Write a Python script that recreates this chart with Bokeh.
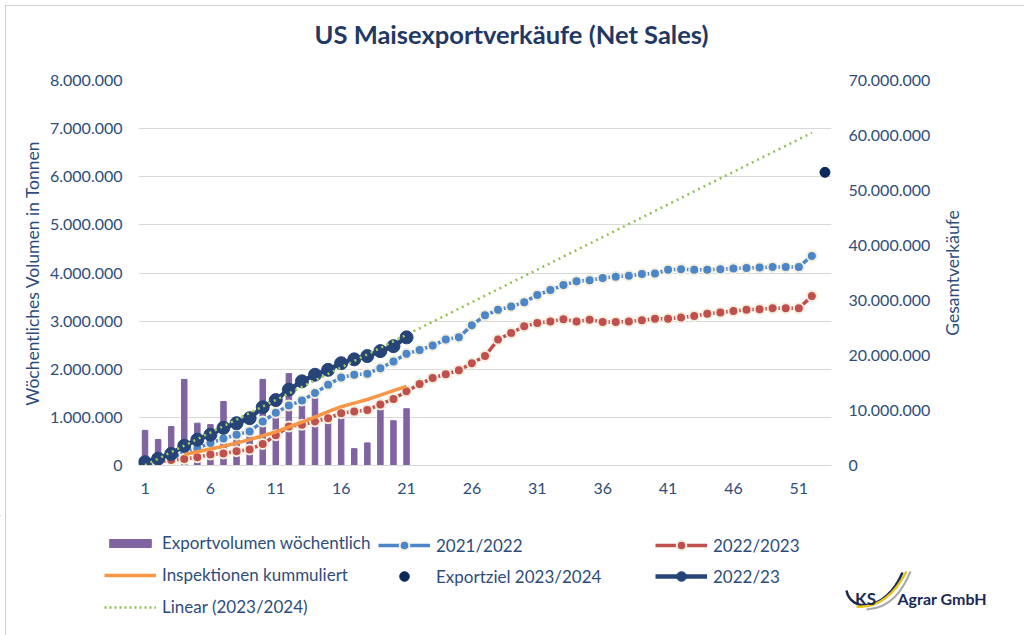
import math
import numpy as np
from bokeh.plotting import figure
from bokeh.layouts import row
from bokeh.models import (Range1d, LinearAxis, FixedTicker, CustomJSTickFormatter,
                          Legend, LegendItem, Label, Div)
from bokeh.embed import file_html
from bokeh.resources import INLINE

# ---------------- data ----------------
weeks_current = list(range(1, 22))
weekly_export = [730000, 540000, 810000, 1790000, 880000, 850000, 1330000, 920000, 800000,
                 1790000, 1080000, 1910000, 1250000, 1400000, 880000, 1220000, 350000,
                 470000, 1160000, 930000, 1180000]
sales_2022_23_current = [600000, 1250000, 2100000, 3600000, 4700000, 5600000, 6850000, 7700000,
                         8600000, 10600000, 11900000, 13800000, 15300000, 16500000, 17400000,
                         18600000, 19300000, 19900000, 20800000, 21700000, 23300000]
weeks_inspections = list(range(4, 22))
inspections_cum = [2000000, 2500000, 3000000, 3500000, 4100000, 4700000, 5400000, 6100000,
                   7000000, 7900000, 8800000, 9800000, 10700000, 11350000, 12000000,
                   12800000, 13600000, 14400000]
weeks_full = list(range(1, 53))
sales_2021_2022 = [200000, 500000, 1300000, 2400000, 3100000, 4100000, 4900000, 5600000,
                   6200000, 8000000, 9600000, 10900000, 11800000, 13200000, 14700000,
                   16000000, 16500000, 16700000, 17700000, 18900000, 20300000, 21000000,
                   21800000, 22900000, 23300000, 25500000, 27300000, 28300000, 28900000,
                   29700000, 31000000, 31900000, 32800000, 33500000, 33700000, 34100000,
                   34300000, 34500000, 34800000, 34900000, 35600000, 35700000, 35600000,
                   35600000, 35700000, 35800000, 35900000, 36000000, 36100000, 36100000,
                   36100000, 38100000]
sales_2022_2023 = [600000, 700000, 1000000, 1200000, 1500000, 2000000, 2200000, 2600000,
                   2900000, 3900000, 5500000, 7100000, 7400000, 8000000, 8600000, 9500000,
                   9800000, 10100000, 11100000, 12100000, 13500000, 14800000, 15900000,
                   16600000, 17300000, 18600000, 19900000, 22900000, 24100000, 25300000,
                   25900000, 26200000, 26600000, 26200000, 26500000, 26100000, 26100000,
                   26200000, 26400000, 26700000, 26700000, 26900000, 27200000, 27600000,
                   27800000, 28100000, 28300000, 28400000, 28600000, 28600000, 28600000,
                   30800000]
target_week = [53]
export_target = [53300000]
left_ticks = [0, 1000000, 2000000, 3000000, 4000000, 5000000, 6000000, 7000000, 8000000]
right_ticks = [0, 10000000, 20000000, 30000000, 40000000, 50000000, 60000000, 70000000]
x_ticks = [1, 6, 11, 16, 21, 26, 31, 36, 41, 46, 51]

# linear trendline of the current season (Excel "Linear" trendline)
coef = np.polyfit(weeks_current, sales_2022_23_current, 1)
trend_weeks = np.array(weeks_full)
trend_vals = np.polyval(coef, trend_weeks)

# ---------------- style ----------------
W, H = 1024, 635
HT = 60                       # title strip
HL = 120                      # legend strip
HM = H - HT - HL              # main figure
WR = 89                       # right strip holding the right axis title
WM = W - WR
FL, FR, FT, FB = 138, 831, 80, 465   # frame in page pixels
FONT = "Lato"
TXT = "#2E4D7B"
GRID = "#D9D9D9"
C_BAR = "#8064A2"
C_BLUE = "#4A86C8"
C_RED = "#C0504D"
C_ORANGE = "#F79646"
C_NAVY = "#264478"
C_TARGET = "#0B2A5B"
C_TREND = "#92C050"
C_HALO = "#F3EEDC"
C_LOGO = "#1B2A55"


def strip(width, height, xr, yr, **borders):
    f = figure(width=width, height=height, x_range=xr, y_range=yr, output_backend="svg",
               toolbar_location=None, x_axis_type=None, y_axis_type=None, **borders)
    f.outline_line_color = None
    f.grid.grid_line_color = None
    f.background_fill_color = "white"
    f.border_fill_color = "white"
    return f


# ---------------- title strip ----------------
tf = strip(W, HT, Range1d(0, W), Range1d(HT, 0), min_border=0)
tf.add_layout(Label(x=511, y=33, text="US Maisexportverkäufe (Net Sales)",
                    text_align="center", text_baseline="middle", text_font=FONT,
                    text_font_size="25.5px", text_font_style="bold", text_color="#1F3864"))

# ---------------- main figure ----------------
p = figure(width=WM, height=HM, x_range=Range1d(0.5, 53.5), y_range=Range1d(0, 8000000),
           output_backend="svg", toolbar_location=None,
           min_border_left=FL, min_border_right=WM - FR, min_border_top=FT - HT,
           min_border_bottom=HM - (FB - HT))
p.outline_line_color = None
p.background_fill_color = "white"
p.border_fill_color = "white"

p.extra_y_ranges = {"tot": Range1d(0, 70000000)}

fmt = CustomJSTickFormatter(code="return Math.round(tick).toString().replace(/\\B(?=(\\d{3})+(?!\\d))/g, '.');")

ya = p.yaxis[0]
ya.ticker = FixedTicker(ticks=left_ticks)
ya.formatter = fmt
ya.axis_line_color = None
ya.major_tick_line_color = None
ya.minor_tick_line_color = None
ya.major_tick_out = 0
ya.minor_tick_out = 0
ya.major_label_standoff = 16
ya.major_label_text_font = FONT
ya.major_label_text_font_size = "16px"
ya.major_label_text_color = TXT
ya.axis_label = "Wöchentliches Volumen in Tonnen"
ya.axis_label_text_font = FONT
ya.axis_label_text_font_size = "17.5px"
ya.axis_label_text_font_style = "normal"
ya.axis_label_text_color = TXT
ya.axis_label_standoff = 4

ra = LinearAxis(y_range_name="tot", ticker=FixedTicker(ticks=right_ticks), formatter=fmt)
ra.axis_line_color = None
ra.major_tick_line_color = None
ra.minor_tick_line_color = None
ra.major_tick_out = 0
ra.minor_tick_out = 0
ra.major_label_standoff = 17
ra.major_label_text_font = FONT
ra.major_label_text_font_size = "16px"
ra.major_label_text_color = TXT
p.add_layout(ra, "right")

xa = p.xaxis[0]
xa.ticker = FixedTicker(ticks=x_ticks)
xa.axis_line_color = GRID
xa.major_tick_line_color = None
xa.minor_tick_line_color = None
xa.major_tick_out = 0
xa.minor_tick_out = 0
xa.major_label_standoff = 17
xa.major_label_text_font = FONT
xa.major_label_text_font_size = "16px"
xa.major_label_text_color = TXT

p.xgrid.grid_line_color = None
p.ygrid.grid_line_color = GRID
p.ygrid.grid_line_width = 1

p.vbar(x=weeks_current, top=weekly_export, width=0.42, color=C_BAR)

p.line(trend_weeks, trend_vals, y_range_name="tot", line_color=C_TREND,
       line_width=2.5, line_dash="2 4")

p.line(weeks_full, sales_2021_2022, y_range_name="tot", line_color=C_BLUE, line_width=3.5)
p.scatter(weeks_full, sales_2021_2022, y_range_name="tot", size=10,
          fill_color=C_BLUE, line_color=C_HALO, line_width=2)

p.line(weeks_full, sales_2022_2023, y_range_name="tot", line_color=C_RED, line_width=3.5)
p.scatter(weeks_full, sales_2022_2023, y_range_name="tot", size=10,
          fill_color=C_RED, line_color=C_HALO, line_width=2)

p.line(weeks_inspections, inspections_cum, y_range_name="tot",
       line_color=C_ORANGE, line_width=3.5)

p.line(weeks_current, sales_2022_23_current, y_range_name="tot",
       line_color=C_NAVY, line_width=4.5)
p.scatter(weeks_current, sales_2022_23_current, y_range_name="tot", size=13,
          fill_color=C_NAVY, line_color=C_NAVY)

p.scatter(target_week, export_target, y_range_name="tot", size=10,
          fill_color=C_TARGET, line_color=C_TARGET)

p.line(trend_weeks[:21], trend_vals[:21], y_range_name="tot", line_color="#A6D05A",
       line_width=2.5, line_dash="2 4")

# ---------------- right strip: title of the right axis ----------------
rf = strip(WR, HM, Range1d(WM, W), Range1d(FB, FT), min_border_left=0, min_border_right=0,
           min_border_top=FT - HT, min_border_bottom=HM - (FB - HT))
rf.add_layout(Label(x=952, y=(FT + FB) / 2, text="Gesamtverkäufe", angle=math.pi / 2,
                    text_align="center", text_baseline="middle", text_font=FONT,
                    text_font_size="17.5px", text_color=TXT))

# ---------------- legend strip (coordinates = page pixels) ----------------
lf = strip(W, HL, Range1d(0, W), Range1d(H, H - HL), min_border=0)

OFF = [-500]   # legend proxies lie outside the visible range
r_bar = lf.vbar(x=OFF, top=OFF, width=1, color=C_BAR)
r_orange = lf.line(x=OFF, y=OFF, line_color=C_ORANGE, line_width=3.5)
r_trend = lf.line(x=OFF, y=OFF, line_color=C_TREND, line_width=2.5, line_dash="2 3")
r_blue_l = lf.line(x=OFF, y=OFF, line_color=C_BLUE, line_width=3.5)
r_blue_m = lf.scatter(x=OFF, y=OFF, size=10, fill_color=C_BLUE, line_color=C_HALO, line_width=2)
r_target = lf.scatter(x=OFF, y=OFF, size=10, fill_color=C_TARGET, line_color=C_TARGET)
r_red_l = lf.line(x=OFF, y=OFF, line_color=C_RED, line_width=3.5)
r_red_m = lf.scatter(x=OFF, y=OFF, size=10, fill_color=C_RED, line_color=C_HALO, line_width=2)
r_navy_l = lf.line(x=OFF, y=OFF, line_color=C_NAVY, line_width=4.5)
r_navy_m = lf.scatter(x=OFF, y=OFF, size=12, fill_color=C_NAVY, line_color=C_NAVY)


def make_legend(items, loc, gh, sp):
    lg = Legend(items=items, location=loc, orientation="vertical")
    lg.spacing = sp
    lg.padding = 0
    lg.margin = 0
    lg.glyph_width = 52
    lg.glyph_height = gh
    lg.label_height = 20
    lg.label_standoff = 6
    lg.border_line_color = None
    lg.background_fill_alpha = 0
    lg.label_text_font = FONT
    lg.label_text_font_size = "17px"
    lg.label_text_color = TXT
    return lg


# first row centred at y=545, rows 31 px apart
leg1 = make_legend([LegendItem(label="Exportvolumen wöchentlich", renderers=[r_bar]),
                    LegendItem(label="Inspektionen kummuliert", renderers=[r_orange]),
                    LegendItem(label="Linear (2023/2024)", renderers=[r_trend])],
                   (104, H - 617), 10, 11)
leg2 = make_legend([LegendItem(label="2021/2022", renderers=[r_blue_l, r_blue_m]),
                    LegendItem(label="Exportziel 2023/2024", renderers=[r_target])],
                   (378, H - 588), 24, 7)
leg3 = make_legend([LegendItem(label="2022/2023", renderers=[r_red_l, r_red_m]),
                    LegendItem(label="2022/23", renderers=[r_navy_l, r_navy_m])],
                   (655, H - 588), 24, 7)
for lg in (leg1, leg2, leg3):
    lf.add_layout(lg, "center")

# logo
lf.bezier(x0=[846], y0=[590], x1=[902], y1=[572], cx0=[850], cy0=[612], cx1=[885], cy1=[612],
          line_color=C_LOGO, line_width=2.5)
lf.bezier(x0=[856], y0=[606], x1=[906], y1=[571], cx0=[880], cy0=[608], cx1=[895], cy1=[592],
          line_color="#E8C21A", line_width=2.5)
lf.bezier(x0=[866], y0=[609], x1=[910], y1=[571], cx0=[890], cy0=[608], cx1=[902], cy1=[590],
          line_color="#A8A8A8", line_width=2)
lf.add_layout(Label(x=865, y=598, text="KS", text_align="center", text_baseline="middle",
                    text_font=FONT, text_font_size="17px", text_font_style="bold",
                    text_color=C_LOGO))
lf.add_layout(Label(x=897, y=598, text="Agrar GmbH", text_align="left",
                    text_baseline="middle", text_font=FONT, text_font_size="16px",
                    text_font_style="bold", text_color=C_LOGO))

frame_box = Div(text="", width=W, height=H,
                styles={"position": "fixed", "left": "0px", "top": "0px",
                        "width": "1024px", "height": "635px",
                        "border": "1px solid #D0D0D0", "box-sizing": "border-box",
                        "pointer-events": "none"})

middle = row(p, rf, spacing=0)

open("out.html", "w").write(file_html([tf, middle, lf, frame_box], INLINE))
